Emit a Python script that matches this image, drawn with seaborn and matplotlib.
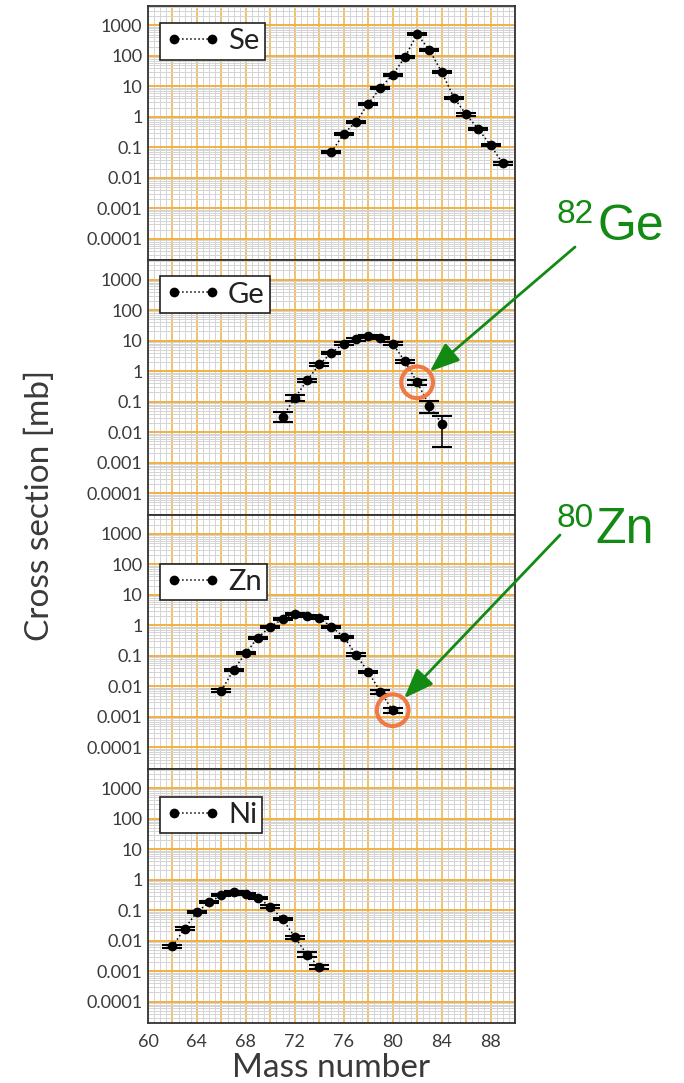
import matplotlib
matplotlib.use("Agg")
import numpy as np
import pandas as pd
import seaborn as sns
import matplotlib.pyplot as plt
from matplotlib.ticker import (FixedLocator, FixedFormatter, MultipleLocator,
                               LogLocator, NullFormatter, FuncFormatter)

# ---- cross sections [mb] per isotope chain ----
se_mass = [75, 76, 77, 78, 79, 80, 81, 82, 83, 84, 85, 86, 87, 88, 89]
se_sigma = [0.07, 0.28, 0.68, 2.7, 8.9, 24, 90, 520, 155, 30, 4.3, 1.2, 0.40, 0.117, 0.030]
se_err_lo = [0.006, 0.02, 0.05, 0.2, 0.7, 2, 7, 40, 12, 2.5, 0.35, 0.1, 0.03, 0.01, 0.003]
se_err_hi = [0.006, 0.02, 0.05, 0.2, 0.7, 2, 7, 40, 12, 2.5, 0.35, 0.1, 0.03, 0.01, 0.003]

ge_mass = [71, 72, 73, 74, 75, 76, 77, 78, 79, 80, 81, 82, 83, 84]
ge_sigma = [0.032, 0.13, 0.50, 1.65, 4.0, 7.9, 11, 14, 12, 7.9, 2.1, 0.43, 0.074, 0.019]
ge_err_lo = [0.010, 0.025, 0.07, 0.15, 0.35, 0.8, 1.0, 1.3, 1.1, 0.8, 0.2, 0.08, 0.030, 0.0158]
ge_err_hi = [0.015, 0.030, 0.07, 0.15, 0.35, 0.8, 1.0, 1.3, 1.1, 0.8, 0.2, 0.09, 0.033, 0.016]

zn_mass = [66, 67, 68, 69, 70, 71, 72, 73, 74, 75, 76, 77, 78, 79, 80]
zn_sigma = [0.0073, 0.035, 0.126, 0.40, 0.91, 1.58, 2.3, 2.0, 1.75, 0.89, 0.42, 0.11, 0.030, 0.0066, 0.00166]
zn_err_lo = [0.0007, 0.003, 0.01, 0.03, 0.07, 0.12, 0.18, 0.15, 0.13, 0.07, 0.035, 0.01, 0.003, 0.0008, 0.0003]
zn_err_hi = [0.0007, 0.003, 0.01, 0.03, 0.07, 0.12, 0.18, 0.15, 0.13, 0.07, 0.035, 0.01, 0.003, 0.0008, 0.0003]

ni_mass = [62, 63, 64, 65, 66, 67, 68, 69, 70, 71, 72, 73, 74]
ni_sigma = [0.0065, 0.025, 0.087, 0.18, 0.31, 0.39, 0.35, 0.25, 0.13, 0.051, 0.013, 0.0035, 0.0014]
ni_err_lo = [0.0006, 0.002, 0.007, 0.014, 0.025, 0.03, 0.028, 0.02, 0.012, 0.005, 0.0017, 0.0006, 0.00025]
ni_err_hi = [0.0006, 0.002, 0.007, 0.014, 0.025, 0.03, 0.028, 0.02, 0.012, 0.005, 0.0017, 0.0006, 0.00025]

elements = ["Se", "Ge", "Zn", "Ni"]
y_tick_values = [1e-4, 1e-3, 1e-2, 1e-1, 1, 10, 100, 1000]
y_tick_labels = ["0.0001", "0.001", "0.01", "0.1", "1", "10", "100", "1000"]
x_tick_labels = ["60", "64", "68", "72", "76", "80", "84", "88"]

# highlighted isotopes
highlights = {"Ge": 82, "Zn": 80}
highlight_labels = {"Ge": ("82", "Ge"), "Zn": ("80", "Zn")}

series = {
    "Se": (se_mass, se_sigma, se_err_lo, se_err_hi),
    "Ge": (ge_mass, ge_sigma, ge_err_lo, ge_err_hi),
    "Zn": (zn_mass, zn_sigma, zn_err_lo, zn_err_hi),
    "Ni": (ni_mass, ni_sigma, ni_err_lo, ni_err_hi),
}

# ---- styling ----
sns.set_theme(style="white")
plt.rcParams["font.family"] = ["Lato", "DejaVu Sans"]
TEXT = "#3a3a3a"
ORANGE_GRID = "#f2b040"
MINOR_GRID = "#d4d4d4"
RING = "#f07a45"
GREEN = "#138a13"

W, H = 684, 1083
fig, axes = plt.subplots(4, 1, figsize=(W / 100, H / 100), dpi=100, sharex=True,
                         gridspec_kw=dict(hspace=0))
fig.subplots_adjust(left=148 / W, right=515 / W, top=1 - 6 / H, bottom=1 - 1023 / H)

legend_tops = {"Se": 0.933, "Ge": 0.937, "Zn": 0.807, "Ni": 0.89}

for ax, name in zip(axes, elements):
    mass, sigma, lo, hi = series[name]
    df = pd.DataFrame({"A": mass, "sigma": sigma})
    ax.set_yscale("log")
    sns.lineplot(data=df, x="A", y="sigma", ax=ax, color="black", linestyle=":",
                 linewidth=1.1, marker="o", markersize=7, markeredgecolor="black",
                 markeredgewidth=0, label=name, zorder=4)
    ax.errorbar(mass, sigma, yerr=[lo, hi], fmt="none", ecolor="black",
                elinewidth=1.1, capsize=7, capthick=1.5, zorder=3)

    ax.set_xlim(60, 90)
    ax.set_ylim(2.0e-5, 4.3e3)

    ax.yaxis.set_major_locator(FixedLocator(y_tick_values))
    ax.yaxis.set_major_formatter(FixedFormatter(y_tick_labels))
    ax.yaxis.set_minor_locator(LogLocator(base=10, subs=np.arange(2, 10), numticks=30))
    ax.yaxis.set_minor_formatter(NullFormatter())
    ax.xaxis.set_major_locator(MultipleLocator(2))
    ax.xaxis.set_minor_locator(MultipleLocator(0.5))
    ax.xaxis.set_major_formatter(
        FuncFormatter(lambda v, _: x_tick_labels[int(round(v - 60)) // 4]
                      if (round(v) % 4 == 0 and 60 <= v <= 88) else ""))

    ax.set_axisbelow(True)
    ax.grid(which="minor", color=MINOR_GRID, linewidth=0.7)
    ax.grid(which="major", axis="y", color=ORANGE_GRID, linewidth=1.4)
    ax.grid(which="major", axis="x", color=ORANGE_GRID, linewidth=1.1)
    ax.tick_params(which="both", length=0, labelsize=13, colors=TEXT)
    ax.tick_params(axis="y", pad=4)
    ax.tick_params(axis="x", pad=8)
    for sp in ax.spines.values():
        sp.set_color("#333333")
        sp.set_linewidth(1.3)
    ax.set_xlabel("")
    ax.set_ylabel("")

    leg = ax.legend(loc="upper left", bbox_to_anchor=(0.033, legend_tops[name]),
                    borderaxespad=0, numpoints=2, handlelength=1.9, handletextpad=0.25,
                    borderpad=0.18, fontsize=21, frameon=True, fancybox=False,
                    edgecolor="#222222", framealpha=1)
    leg.get_frame().set_linewidth(1.2)
    for t in leg.get_texts():
        t.set_color("#222222")

    if name in highlights:
        a = highlights[name]
        val = sigma[mass.index(a)]
        ax.scatter([a], [val], s=520, facecolors="none", edgecolors=RING,
                   linewidths=3.0, zorder=6)

# ---- highlight annotations ----
arrow_starts = {"Ge": (575, H - 247), "Zn": (560, H - 535)}
label_pos = {"Ge": (557, 223, 597, 240), "Zn": (557, 527, 595, 543)}
for name, ax in zip(elements, axes):
    if name not in highlights:
        continue
    mass, sigma, _, _ = series[name]
    a = highlights[name]
    val = sigma[mass.index(a)]
    ax.annotate("", xy=(a, val), xycoords="data", xytext=arrow_starts[name],
                textcoords="figure pixels",
                arrowprops=dict(arrowstyle="-|>,head_length=1.3,head_width=0.5",
                                color=GREEN, lw=2.0, shrinkA=0, shrinkB=12,
                                mutation_scale=14), zorder=7)
    sup, sym = highlight_labels[name]
    sx, sy, lx, ly = label_pos[name]
    fig.text(sx / W, 1 - sy / H, sup, color=GREEN, fontsize=24,
             family=["Liberation Sans", "DejaVu Sans"], ha="left", va="baseline")
    fig.text(lx / W, 1 - ly / H, sym, color=GREEN, fontsize=36,
             family=["Liberation Sans", "DejaVu Sans"], ha="left", va="baseline")

# ---- axis titles ----
fig.text(40 / W, 1 - 505 / H, "Cross section [mb]", rotation=90, ha="center",
         va="center", fontsize=24, color=TEXT)
fig.text(331.5 / W, 1 - 1077 / H, "Mass number", ha="center", va="baseline",
         fontsize=24, color=TEXT)

fig.savefig("out.png", dpi=100)
